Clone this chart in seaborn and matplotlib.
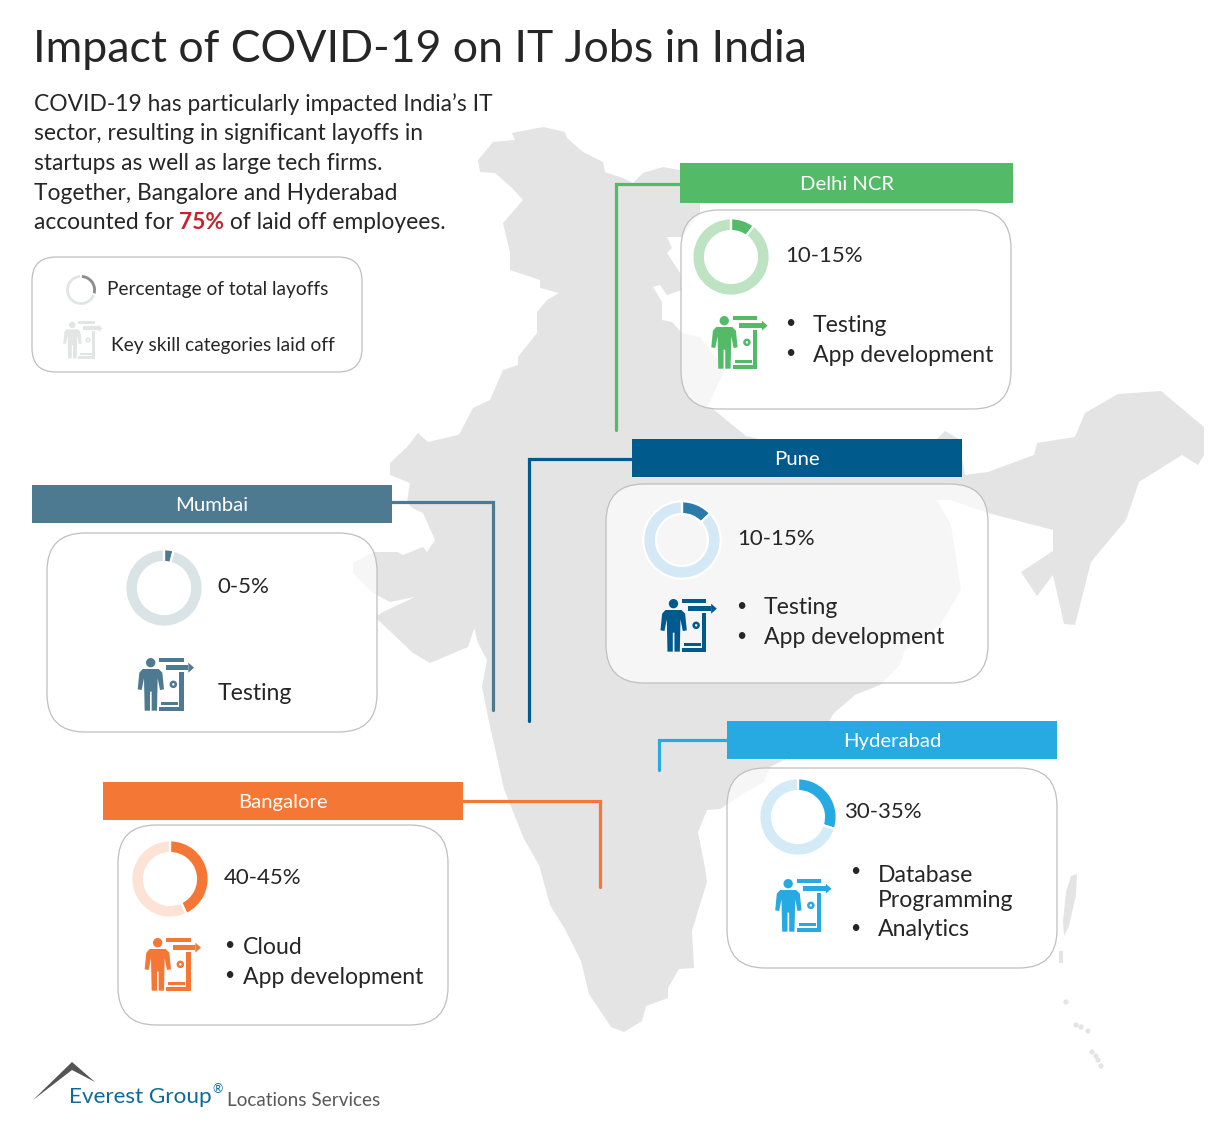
import matplotlib
matplotlib.use("Agg")
import matplotlib.pyplot as plt
from matplotlib.patches import Polygon, FancyBboxPatch, Rectangle, Circle
import seaborn as sns

W, H = 1231, 1126

# ---------- data ----------
TITLE = "Impact of COVID-19 on IT Jobs in India"
INTRO = ["COVID-19 has particularly impacted India\u2019s IT",
         "sector, resulting in significant layoffs in",
         "startups as well as large tech firms.",
         "Together, Bangalore and Hyderabad"]
INTRO_LAST = ["accounted for ", "75%", " of laid off employees."]
LEGEND_TEXT = ["Percentage of total layoffs", "Key skill categories laid off"]

cities = ["Delhi NCR", "Pune", "Mumbai", "Bangalore", "Hyderabad"]
ranges = ["10-15%", "10-15%", "0-5%", "40-45%", "30-35%"]
share = [10, 13, 4, 43, 30]
skills = [["Testing", "App development"],
          ["Testing", "App development"],
          ["Testing"],
          ["Cloud", "App development"],
          ["Database\nProgramming", "Analytics"]]
legend_share = 30

india_x = [478,493,515,512,543,565,567,583,603,605,623,633,643,663,680,700,700,682,667,672,667,673,680,682,667,660,653,662,662,672,682,700,725,708,714,746,768,935,945,959,965,988,1034,1037,1075,1085,1118,1161,1204,1204,1198,1182,1139,1126,1091,1075,1064,1053,1037,1021,1053,1053,988,950,937,951,961,940,905,900,880,855,834,829,786,770,764,746,720,707,698,705,707,698,692,694,679,668,668,646,642,624,611,589,581,566,550,539,524,504,488,482,487,478,473,478,468,430,413,375,383,415,390,373,353,353,373,397,403,423,427,435,423,412,407,410,390,390,407,418,428,458,460,473,490,503,518,518,537,537,547,559,540,540,510,510,503,523,512,495,480]
india_y = [160,142,140,133,127,132,138,152,162,172,178,183,173,167,170,190,213,237,237,248,253,262,273,290,295,285,287,302,320,322,333,337,369,406,410,436,441,441,431,439,475,472,455,443,437,413,394,391,427,455,465,455,482,520,562,625,624,575,596,572,551,530,513,500,500,525,590,625,650,665,685,695,713,721,759,767,782,792,809,810,832,868,882,911,931,968,969,988,998,1006,1021,1032,1027,994,961,931,905,865,839,789,717,687,660,643,623,617,647,663,653,617,612,597,602,593,573,563,552,552,555,547,552,540,513,508,502,483,475,463,447,433,442,435,433,408,400,370,365,357,333,312,300,293,288,280,270,253,223,200,188,173,172]
andaman_x = [1071,1077,1076,1069,1064,1063,1066]
andaman_y = [876,874,895,926,936,921,892]
nicobar_x = [1059,1063,1063,1059]
nicobar_y = [951,951,963,963]
island_x = [1066,1076,1081,1088,1092,1096,1101,1098]
island_y = [1002,1025,1027,1031,1052,1056,1066,1060]

# ---------- layout and styles ----------
dark = ["#53BA68", "#005A8C", "#4D7A90", "#F47735", "#27A9E1"]
arc = ["#53BA68", "#2A7BA9", "#4D7A90", "#F47735", "#27A9E1"]
light = ["#BDE3C3", "#D4E9F5", "#DAE4E7", "#FDE3D6", "#D3EAF7"]
map_grey = "#E4E4E4"
ink = "#262626"
FONT = ["Lato", "DejaVu Sans"]

header_box = [(680, 163, 333, 40), (632, 439, 330, 38), (32, 485, 360, 38),
              (103, 782, 360, 38), (727, 721, 330, 38)]
card_box = [(681, 210, 330, 199), (606, 484, 382, 199), (47, 533, 330, 199),
            (118, 825, 330, 200), (727, 768, 330, 200)]
links = [[(680, 184), (616, 184), (616, 430)],
         [(632, 459), (529, 459), (529, 721)],
         [(392, 502), (493, 502), (493, 710)],
         [(463, 801), (600, 801), (600, 887)],
         [(727, 739.5), (659, 739.5), (659, 770)]]
donut_c = [(731, 257), (682, 540), (164, 588), (170, 879), (798, 817)]
range_pos = [(785, 256), (737, 539), (217, 587), (224, 878), (844, 812)]
icon_pos = [(693.6, 298), (642.8, 581), (120, 640), (127, 920), (757.5, 861)]
bullet_x = [790, 741, None, 229, 855]
skill_x = [813, 764, 218, 243, 878]
skill_y = [[325, 355], [608, 638], [694], [947, 977], [888, 930]]

sns.set_theme(style="white")
plt.rcParams["font.family"] = FONT

fig = plt.figure(figsize=(W / 100, H / 100), dpi=100, facecolor="white")
ax = fig.add_axes([0, 0, 1, 1])
ax.set_xlim(0, W)
ax.set_ylim(H, 0)
ax.axis("off")
sns.despine(ax=ax, left=True, bottom=True)


def txt(x, y, s, size, color=ink, ha="left", va="center", **kw):
    return ax.text(x, y, s, fontsize=size, color=color, ha=ha, va=va, zorder=8, **kw)


def icon(ox, oy, col, s=1.0):
    k = s / 3
    p = lambda pts: [(ox + a * k, oy + b * k) for a, b in pts]
    person = [(68, 87), (116, 87), (127, 98), (132, 148), (120, 150), (113, 115),
              (111, 212), (95, 212), (95, 155), (90, 155), (90, 212), (74, 212),
              (72, 115), (65, 150), (53, 148), (58, 98)]
    ax.add_patch(Polygon(p(person), fc=col, ec="none", zorder=6))
    ax.add_patch(Circle((ox + 92 * k, oy + 68 * k), 14 * k, fc=col, ec="none", zorder=6))
    for a, b, w, h in [(117, 53, 74, 13), (178, 95, 13, 117), (117, 200, 74, 13),
                       (123, 187, 52, 9), (137, 74, 68, 17)]:
        ax.add_patch(Rectangle((ox + a * k, oy + b * k), w * k, h * k, fc=col, ec="none", zorder=6))
    ax.add_patch(Polygon(p([(205, 68), (222, 83), (205, 98)]), fc=col, ec="none", zorder=6))
    ax.add_patch(Circle((ox + 160 * k, oy + 133 * k), 7.5 * k, fc="none", ec=col,
                        lw=1.8 * s, zorder=6))


def donut(cx, cy, r, value, c_on, c_off, width=0.33, gap=1.6):
    a = fig.add_axes([(cx - r) / W, 1 - (cy + r) / H, 2 * r / W, 2 * r / H], zorder=5)
    a.pie([value, 100 - value], colors=[c_on, c_off], startangle=90, counterclock=False,
          radius=1, wedgeprops=dict(width=width, edgecolor="white", linewidth=gap))
    a.set_xlim(-1.02, 1.02)
    a.set_ylim(-1.02, 1.02)
    a.set_facecolor("none")


# map
ax.add_patch(Polygon(list(zip(india_x, india_y)), fc=map_grey, ec="none", zorder=1))
ax.add_patch(Polygon(list(zip(andaman_x, andaman_y)), fc=map_grey, ec="none", zorder=1))
ax.add_patch(Polygon(list(zip(nicobar_x, nicobar_y)), fc=map_grey, ec="none", zorder=1))
for ix, iy in zip(island_x, island_y):
    ax.add_patch(Circle((ix, iy), 2.6, fc=map_grey, ec="none", zorder=1))

# title and intro
txt(33, 50, TITLE, 32.1)
for i, line in enumerate(INTRO):
    txt(33.5, 104 + 30 * i, line, 16.4)
renderer = fig.canvas.get_renderer()
base_y = 229
t0 = txt(33.5, base_y, INTRO_LAST[0], 16.4, va="baseline")
x1 = ax.transData.inverted().transform(t0.get_window_extent(renderer).p1)[0]
t1 = txt(x1, base_y, INTRO_LAST[1], 16.4, color="#C8232C", fontweight="bold", va="baseline")
x2 = ax.transData.inverted().transform(t1.get_window_extent(renderer).p1)[0]
txt(x2, base_y, INTRO_LAST[2], 16.4, va="baseline")

# legend
ax.add_patch(FancyBboxPatch((32, 257), 330, 115, boxstyle="round,pad=0,rounding_size=24",
                            fc="white", ec="#BFBFBF", lw=0.9, zorder=3))
donut(81, 290, 16, legend_share, "#8C8C8C", "#E3E5E5", width=0.27, gap=1.0)
icon(50.8, 309, "#E3E5E5", 0.7)
txt(107, 289, LEGEND_TEXT[0], 13.8)
txt(111, 345, LEGEND_TEXT[1], 13.8)

# location panels
for i, city in enumerate(cities):
    x, y, w, h = card_box[i]
    ax.add_patch(FancyBboxPatch((x, y), w, h, boxstyle="round,pad=0,rounding_size=38",
                                fc=(1, 1, 1, 0.7), ec="#BFBFBF", lw=0.9, zorder=3))
    xs, ys = zip(*links[i])
    ax.plot(xs, ys, color=dark[i], lw=2.3, solid_joinstyle="miter", zorder=2)
    hx, hy, hw, hh = header_box[i]
    ax.add_patch(Rectangle((hx, hy), hw, hh, fc=dark[i], ec="none", zorder=4))
    txt(hx + hw / 2, hy + hh / 2 + 1.5, city, 14.6, color="white", ha="center")
    donut(*donut_c[i], 39.5, share[i], arc[i], light[i])
    txt(*range_pos[i], ranges[i], 16)
    icon(*icon_pos[i], dark[i])
    for j, item in enumerate(skills[i]):
        txt(skill_x[i], skill_y[i][j], item, 16.6, linespacing=1.2)
        if bullet_x[i] is not None:
            by = skill_y[i][j] - (15 if "\n" in item else 0)
            txt(bullet_x[i], by - 2, "\u2022", 12.5, ha="center")

# logo
ax.add_patch(Polygon([(33, 1100), (72, 1062), (95, 1082), (72, 1070)], fc="#555555", ec="none", zorder=6))
txt(69, 1097, "Everest Group", 16.2, color="#0F6A9B",
    family=["Liberation Sans Narrow", "Lato", "DejaVu Sans"])
txt(212, 1089, "\u00ae", 9, color="#0F6A9B")
txt(227, 1100, "Locations Services", 13.6, color="#595959")

fig.savefig("out.png", dpi=100, facecolor="white")
